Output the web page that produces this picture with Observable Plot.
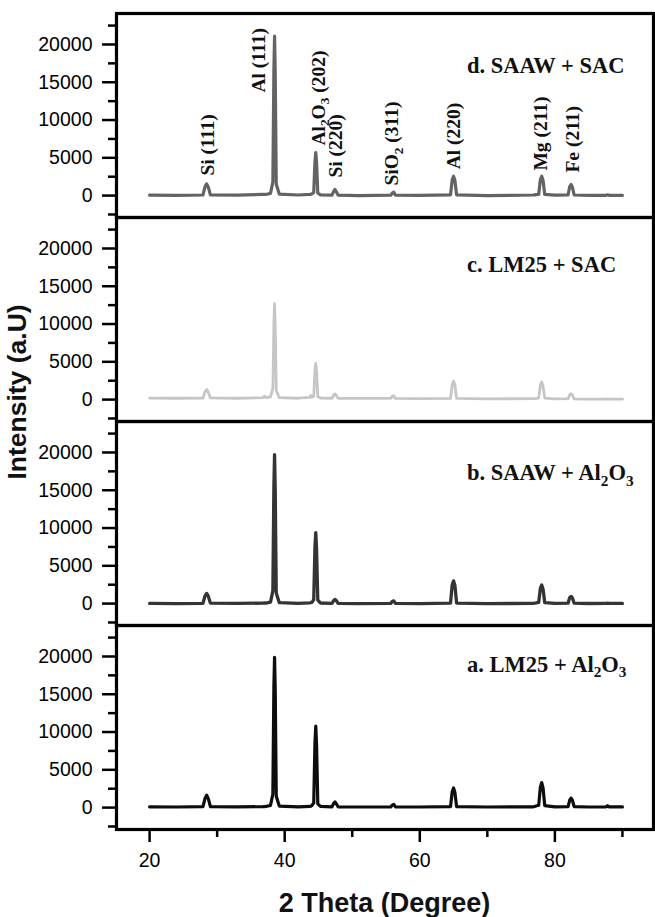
<!DOCTYPE html>
<html>
<head>
<meta charset="utf-8">
<script src="https://cdn.jsdelivr.net/npm/d3@7"></script>
<script src="https://cdn.jsdelivr.net/npm/@observablehq/plot@0.6"></script>
<style>
  body { margin: 0; background: #fff; }
</style>
</head>
<body>
<div id="chart"></div>
<script>
// XRD patterns of the four surface composites, sampled at a shared set of 2θ angles.
const twoTheta = [
  20, 24, 27.9, 28.2, 28.45, 28.7, 29.0, 33, 36.8, 37.0, 37.2, 37.9,
  38.25, 38.4, 38.5, 38.6, 38.75, 39.2, 42, 43.7, 43.85, 44.0, 44.3, 44.48,
  44.6, 44.72, 44.9, 45.3, 47.0, 47.25, 47.45, 47.65, 47.9, 51, 55.7, 55.95,
  56.15, 56.4, 60, 64.55, 64.8, 65.0, 65.2, 65.45, 70, 76.8, 77.0, 77.2,
  77.6, 77.85, 78.05, 78.25, 78.5, 80, 81.95, 82.2, 82.4, 82.6, 82.85, 85,
  87.6, 87.8, 88.0, 90
];

// d. SAAW + SAC
const intensityD = [
  60, 20, 80, 1150, 1550, 1100, 100, 60, 150, 180, 150, 300,
  1800, 16500, 21100, 16000, 1500, 200, 80, 150, 170, 200, 400, 4500,
  5700, 4400, 350, 100, 60, 550, 800, 500, 60, 0, 50, 350,
  440, 50, 20, 100, 2100, 2560, 2000, 100, 0, 80, 100, 120,
  150, 2100, 2560, 2000, 150, 50, 80, 1200, 1460, 1100, 80, 20,
  40, 100, 40, 40
];

// c. LM25 + SAC
const intensityC = [
  200, 180, 200, 1000, 1350, 950, 220, 180, 250, 450, 260, 350,
  1500, 10000, 12700, 9800, 1200, 250, 180, 300, 550, 300, 450, 3800,
  4800, 3700, 400, 200, 180, 600, 750, 550, 180, 150, 150, 450,
  500, 150, 120, 150, 2000, 2450, 1900, 150, 100, 120, 130, 150,
  200, 1900, 2350, 1800, 200, 100, 120, 650, 780, 600, 100, 50,
  60, 100, 60, 60
];

// b. SAAW + Al2O3
const intensityB = [
  20, 0, 40, 1000, 1350, 950, 60, 20, 60, 80, 70, 200,
  1700, 15500, 19700, 15000, 1400, 120, 30, 100, 120, 150, 500, 7500,
  9400, 7200, 450, 80, 40, 400, 550, 380, 40, 0, 30, 300,
  350, 30, 0, 60, 2500, 3000, 2400, 60, 0, 30, 60, 80,
  150, 2000, 2450, 1900, 120, 30, 50, 800, 950, 750, 50, 10,
  20, 60, 20, 20
];

// a. LM25 + Al2O3
const intensityA = [
  100, 80, 120, 1200, 1650, 1150, 130, 100, 120, 140, 150, 300,
  1800, 16000, 19900, 15500, 1500, 200, 100, 150, 180, 250, 600, 8600,
  10800, 8300, 500, 150, 100, 550, 750, 500, 100, 80, 100, 350,
  420, 100, 80, 120, 2100, 2600, 2000, 120, 80, 100, 150, 200,
  300, 2700, 3300, 2600, 250, 100, 120, 1000, 1250, 950, 120, 80,
  100, 250, 100, 90
];

const panels = ["d", "c", "b", "a"];
const panelTitles = ["d. SAAW + SAC", "c. LM25 + SAC", "b. SAAW + Al₂O₃", "a. LM25 + Al₂O₃"];

// Reflections indexed in panel d
const peakNames = ["Si (111)", "Al (111)", "Al₂O₃ (202)", "Si (220)", "SiO₂ (311)", "Al (220)", "Mg (211)", "Fe (211)"];
const peakTheta = [28.6, 36.1, 45.0, 47.5, 55.9, 65.0, 77.9, 82.6];

const yTicks = [0, 5000, 10000, 15000, 20000];
const yMinorTicks = [-2500, 2500, 7500, 12500, 17500, 22500];
const xTicks = [20, 40, 60, 80];
const xMinorTicks = [30, 50, 70, 90];

// ---- build tables ----
const seriesByPanel = {d: intensityD, c: intensityC, b: intensityB, a: intensityA};
const rows = panels.flatMap(p =>
  twoTheta.map((t, i) => ({panel: p, theta: t, intensity: seriesByPanel[p][i]}))
);

const lineStyle = {
  d: {stroke: "#636363", strokeWidth: 3.2},
  c: {stroke: "#c6c6c6", strokeWidth: 2.8},
  b: {stroke: "#343434", strokeWidth: 3.3},
  a: {stroke: "#0d0d0d", strokeWidth: 3.2}
};

// title baselines (in intensity units) and label start heights
const titleY = {d: 16220, c: 16900, b: 16310, a: 17960};
const peakLabelY = [2650, 13640, 6620, 2380, 1320, 3480, 3310, 3050];

const titles = panels.map((p, i) => ({panel: p, title: panelTitles[i], y: titleY[p]}));
const peaks = peakNames.map((name, i) => ({panel: "d", name, theta: peakTheta[i], y: peakLabelY[i]}));

const serif = "'Liberation Serif', 'Times New Roman', serif";
const sans = "'Liberation Sans', Arial, Helvetica, sans-serif";

const chart = Plot.plot({
  width: 655,
  height: 917,
  marginLeft: 116,
  marginRight: 2,
  marginTop: 12,
  marginBottom: 87,
  style: {fontFamily: sans, fontSize: "19.5px", background: "#fff", color: "#000", overflow: "visible"},
  x: {domain: [15.1, 94.6]},
  y: {domain: [-2900, 24100]},
  fy: {domain: panels, padding: 0, axis: null},
  marks: [
    ...panels.map(p =>
      Plot.line(rows.filter(r => r.panel === p), {
        x: "theta", y: "intensity", fy: "panel",
        ...lineStyle[p], strokeLinejoin: "round", strokeLinecap: "round"
      })
    ),
    Plot.frame({stroke: "#000", strokeWidth: 3.2}),
    Plot.axisY(yTicks, {tickSize: 14, tickPadding: 10, strokeWidth: 2.5, tickFormat: d => String(d), label: null}),
    Plot.axisY(yMinorTicks, {tickSize: 8, strokeWidth: 2.5, tickFormat: () => "", label: null}),
    Plot.axisX(xTicks, {tickSize: 13, tickPadding: 11, strokeWidth: 2.5, label: null}),
    Plot.axisX(xMinorTicks, {tickSize: 8, strokeWidth: 2.5, tickFormat: () => "", label: null}),
    Plot.text(titles, {
      x: 67, y: "y", fy: "panel", text: "title",
      textAnchor: "start", lineAnchor: "bottom",
      fontFamily: serif, fontWeight: "bold", fontSize: 22.5, fill: "#111"
    }),
    Plot.text(peaks, {
      x: "theta", y: "y", fy: "panel", text: "name",
      rotate: -90, textAnchor: "start", lineAnchor: "middle",
      fontFamily: serif, fontWeight: "bold", fontSize: 19.5, fill: "#111"
    })
  ]
});

// Axis titles spanning the stacked panels
const svg = d3.select(chart.tagName === "svg" ? chart : chart.querySelector("svg"));
svg.append("text")
  .attr("x", 384.5).attr("y", 912)
  .attr("text-anchor", "middle")
  .attr("font-family", sans).attr("font-weight", "bold").attr("font-size", 27)
  .attr("fill", "#111")
  .text("2 Theta (Degree)");
svg.append("text")
  .attr("transform", "translate(25.5,392) rotate(-90)")
  .attr("text-anchor", "middle")
  .attr("font-family", sans).attr("font-weight", "bold").attr("font-size", 26.5)
  .attr("fill", "#111")
  .text("Intensity (a.U)");

document.getElementById("chart").appendChild(chart);

// Render unicode subscript digits as real subscripts
const subMap = {"₀": "0", "₁": "1", "₂": "2", "₃": "3", "₄": "4", "₅": "5", "₆": "6", "₇": "7", "₈": "8", "₉": "9"};
svg.selectAll("text, tspan").each(function () {
  const el = this;
  if (el.childNodes.length !== 1 || el.firstChild.nodeType !== 3) return;
  const s = el.textContent;
  if (!/[₀-₉]/.test(s)) return;
  const fs = parseFloat(getComputedStyle(el).fontSize) || 19;
  const shift = fs * 0.24;
  el.textContent = "";
  const runs = s.match(/[₀-₉]+|[^₀-₉]+/g);
  let lowered = false;
  for (const run of runs) {
    const isSub = /[₀-₉]/.test(run[0]);
    const t = document.createElementNS("http://www.w3.org/2000/svg", "tspan");
    if (isSub) {
      t.textContent = run.split("").map(c => subMap[c]).join("");
      t.setAttribute("font-size", (fs * 0.68).toFixed(1));
      if (!lowered) { t.setAttribute("dy", shift.toFixed(1)); lowered = true; }
    } else {
      t.textContent = run;
      if (lowered) { t.setAttribute("dy", (-shift).toFixed(1)); lowered = false; }
    }
    el.appendChild(t);
  }
});
</script>
</body>
</html>
